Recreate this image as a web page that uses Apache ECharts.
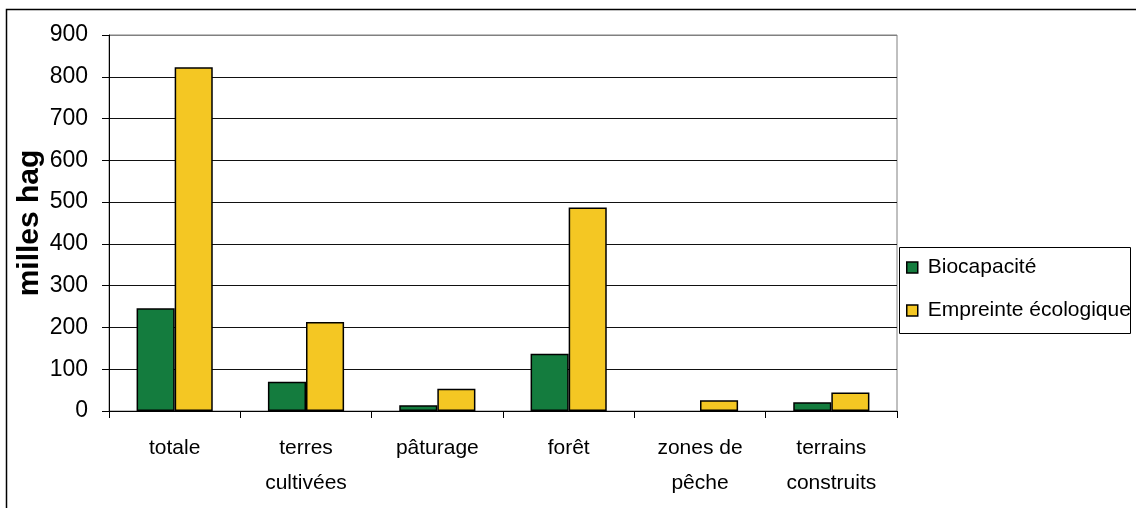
<!DOCTYPE html>
<html>
<head>
<meta charset="utf-8">
<script src="https://cdn.jsdelivr.net/npm/echarts@6/dist/echarts.min.js"></script>
<style>
html,body{margin:0;padding:0;background:#fff;}
#chart{width:1136px;height:508px;}
</style>
</head>
<body>
<div id="chart"></div>
<script>
const categories = ['totale', 'terres\ncultivées', 'pâturage', 'forêt', 'zones de\npêche', 'terrains\nconstruits'];
const biocapacite = [246, 70, 14, 137, 0, 21];
const empreinte = [823, 213, 53, 487, 26, 44];
const yTicks = [0, 100, 200, 300, 400, 500, 600, 700, 800, 900];
const seriesNames = ['Biocapacité', 'Empreinte écologique'];
const axisName = 'milles hag';

const chart = echarts.init(document.getElementById('chart'), null, {renderer: 'canvas'});
const font = 'Liberation Sans, Arial, sans-serif';
const gridColors = yTicks.map((v, i) => i === yTicks.length - 1 ? '#808080' : '#111');
const toBars = arr => arr.map(v => v === 0 ? {value: v, itemStyle: {borderWidth: 0}} : v);

chart.setOption({
  animation: false,
  backgroundColor: '#fff',
  grid: {left: 109, right: 239, top: 35, bottom: 97, outerBoundsMode: 'none', containLabel: false,
         show: true, borderColor: '#808080', borderWidth: 1, backgroundColor: 'transparent'},
  legend: {
    orient: 'vertical', left: 906, top: 257,
    icon: 'rect',
    itemWidth: 11, itemHeight: 11, itemGap: 22,
    padding: 0,
    textStyle: {fontFamily: font, fontSize: 21, color: '#000', padding: [0, 0, 0, 5]},
    data: seriesNames.map(n => ({name: n, itemStyle: {borderColor: '#000', borderWidth: 1.5}}))
  },
  graphic: [
    {type: 'rect', shape: {x: 6.5, y: 9.5, width: 1200, height: 600}, style: {fill: 'none', stroke: '#000', lineWidth: 1.5}, z: 100},
    {type: 'rect', shape: {x: 899.5, y: 247.5, width: 231, height: 86}, style: {fill: 'none', stroke: '#000', lineWidth: 1}, z: 100}
  ],
  xAxis: {
    type: 'category', data: categories,
    axisLine: {lineStyle: {color: '#000', width: 1}},
    axisTick: {show: true, length: 7, lineStyle: {color: '#000'}},
    axisLabel: {fontFamily: font, fontSize: 21, color: '#000', lineHeight: 35, margin: 20, interval: 0}
  },
  yAxis: {
    type: 'value', min: 0, max: 900, interval: 100,
    name: axisName, nameLocation: 'middle', nameRotate: 90, nameGap: 64, nameMoveOverlap: false,
    nameTextStyle: {fontFamily: font, fontSize: 30, fontWeight: 'bold', color: '#000'},
    axisLine: {show: true, lineStyle: {color: '#000', width: 1}},
    axisTick: {show: true, length: 7, lineStyle: {color: '#000'}},
    axisLabel: {fontFamily: font, fontSize: 23, color: '#000', margin: 21},
    splitLine: {show: true, lineStyle: {color: gridColors, width: 1}}
  },
  series: [
    {name: seriesNames[0], type: 'bar', data: toBars(biocapacite), barGap: '0%', barCategoryGap: '42%',
     itemStyle: {color: '#147C3E', borderColor: '#000', borderWidth: 1.5}},
    {name: seriesNames[1], type: 'bar', data: toBars(empreinte), barGap: '0%', barCategoryGap: '42%',
     itemStyle: {color: '#F4C723', borderColor: '#000', borderWidth: 1.5}}
  ]
});
</script>
</body>
</html>
